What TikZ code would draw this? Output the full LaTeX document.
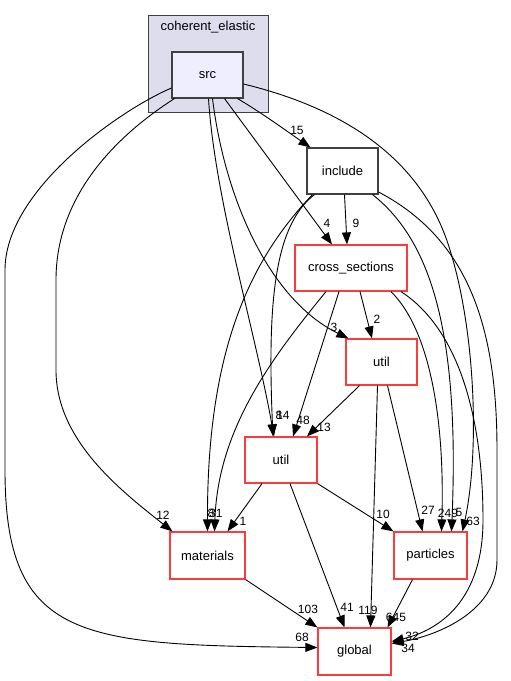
\documentclass[tikz,border=0pt]{standalone}
\usepackage{fontspec}
\setmainfont{Liberation Sans}
\usetikzlibrary{arrows.meta}
\definecolor{clfill}{HTML}{DDDDEE}
\definecolor{srcfill}{HTML}{EEEEFF}
\definecolor{bord}{HTML}{404040}
\definecolor{redb}{HTML}{FF3A3A}
\begin{document}
\begin{tikzpicture}[x=1pt,y=-1pt,
  box/.style={draw=bord,line width=1.1pt,fill=white,minimum height=46pt,inner sep=0pt,font=\fontsize{13}{15}\selectfont},
  redbox/.style={draw=redb,line width=1.2pt,fill=white,minimum height=46pt,inner sep=0pt,font=\fontsize{13}{15}\selectfont},
  e/.style={draw=black,line width=0.9pt,-{Triangle[length=12pt,width=9pt]}},
  lbl/.style={inner sep=0pt,font=\fontsize{12}{14}\selectfont}]
\useasboundingbox (0,0) rectangle (511,681);
\node[draw=bord,line width=1pt,fill=clfill,minimum width=120pt,minimum height=97pt,inner sep=0pt] (cl) at (208,63.5) {};
\node[font=\fontsize{13}{15}\selectfont,inner sep=0pt] (cllbl) at (208,27) {coherent\_elastic};
\node[box,fill=srcfill,minimum width=71pt] (src) at (207.5,75) {src};
\node[box,minimum width=71pt] (inc) at (342.5,171) {include};
\node[redbox,minimum width=112pt] (cross) at (351,268) {cross\_sections};
\node[redbox,minimum width=71pt] (utilU) at (381.5,362) {util};
\node[redbox,minimum width=72pt] (utilL) at (281,460) {util};
\node[redbox,minimum width=75pt,minimum height=47pt] (mat) at (207.5,555.5) {materials};
\node[redbox,minimum width=73pt,minimum height=47pt] (part) at (430.5,555.5) {particles};
\node[redbox,minimum width=73pt,minimum height=47pt] (glob) at (354.5,651.5) {global};

% src edges
\draw[e] ([xshift=30]src.south) .. controls (262,113) and (288,132) .. ([xshift=-32]inc.north);
\draw[e] ([xshift=17]src.south) -- ([xshift=-19]cross.north);
\draw[e] ([xshift=5]src.south) .. controls (225,200) and (270,300) .. ([xshift=3]utilU.north west);
\draw[e] ([xshift=1]src.south) .. controls (215,200) and (255,330) .. ([xshift=-7]utilL.north);
\draw[e] ([xshift=3]src.south west) .. controls (110,140) and (56,200) .. (56,280) -- (56,370) .. controls (56,440) and (120,490) .. ([xshift=3]mat.north west);
\draw[e] ([yshift=-13]src.west) .. controls (120,110) and (5,190) .. (5,270) -- (5,470) .. controls (5,640) and (80,645) .. ([yshift=4]glob.west);
\draw[e] ([yshift=-9]src.east) .. controls (330,105) and (420,150) .. (450,250) .. controls (475,330) and (480,450) .. ([xshift=32]part.north);
% include edges
\draw[e] ([xshift=-30]inc.south) .. controls (250,260) and (207,350) .. (mat.north);
\draw[e] ([xshift=-28]inc.south) .. controls (275,225) and (267,300) .. ([xshift=-8]utilL.north);
\draw[e] ([xshift=2]inc.south) -- ([xshift=-4]cross.north);
\draw[e] ([xshift=30]inc.south) .. controls (430,240) and (460,330) .. ([xshift=21]part.north);
\draw[e] ([yshift=-21]inc.east) .. controls (470,240) and (497,330) .. (497,450) -- (497,560) .. controls (497,610) and (440,635) .. ([yshift=8]glob.east);
% cross_sections edges
\draw[e] ([xshift=50]cross.south) .. controls (460,330) and (483,420) .. (483,520) .. controls (483,600) and (440,630) .. ([yshift=10]glob.east);
\draw[e] ([xshift=40]cross.south) .. controls (430,330) and (445,420) .. ([xshift=11]part.north);
\draw[e] ([xshift=-25]cross.south) .. controls (270,360) and (218,430) .. ([xshift=7]mat.north);
\draw[e] ([xshift=-12]cross.south) -- ([xshift=12]utilL.north);
\draw[e] ([xshift=9]cross.south) -- ([xshift=-9.5]utilU.north);
% util upper
\draw[e] ([xshift=-22]utilU.south) -- ([xshift=26]utilL.north);
\draw[e] ([xshift=-4]utilU.south) -- ([xshift=16]glob.north);
\draw[e] ([xshift=6]utilU.south) -- ([xshift=-8]part.north);
% util lower
\draw[e] ([xshift=-19]utilL.south) -- ([xshift=20]mat.north);
\draw[e] ([xshift=9]utilL.south) -- ([xshift=-10]glob.north);
\draw[e] (utilL.south east) -- (part.north west);
% materials, particles
\draw[e] (mat.south east) -- (glob.north west);
\draw[e] ([xshift=-18]part.south) -- ([xshift=33]glob.north);

% labels
\node[lbl] at (297,130) {15};
\node[lbl] at (327,223) {4};
\node[lbl] at (356,223) {9};
\node[lbl] at (334,327) {3};
\node[lbl] at (377,319) {2};
\node[lbl] at (279,415) {8};
\node[lbl] at (283,415) {14};
\node[lbl] at (303,420) {48};
\node[lbl] at (324,427) {13};
\node[lbl] at (163,515) {12};
\node[lbl] at (211,513) {8};
\node[lbl] at (216,513) {31};
\node[lbl] at (243,521) {1};
\node[lbl] at (383,514) {10};
\node[lbl] at (428,510) {27};
\node[lbl] at (448,513) {249};
\node[lbl] at (459,512) {5};
\node[lbl] at (473,521) {63};
\node[lbl] at (308,609) {103};
\node[lbl] at (347,607) {41};
\node[lbl] at (368,610) {119};
\node[lbl] at (396,617) {645};
\node[lbl] at (302,637) {68};
\node[lbl] at (412,636) {32};
\node[lbl] at (408,648) {34};
\end{tikzpicture}
\end{document}
